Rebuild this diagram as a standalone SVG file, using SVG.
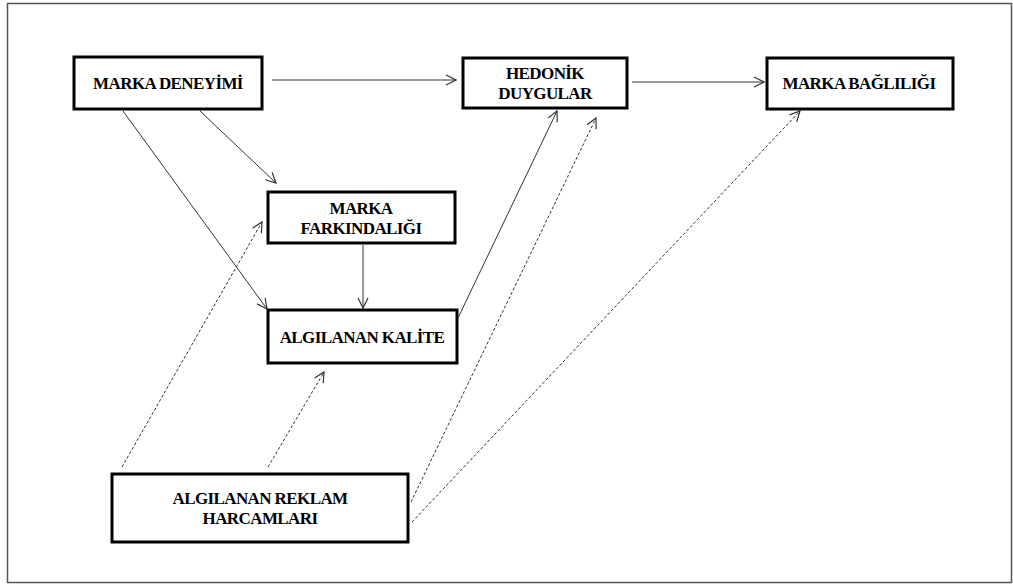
<svg xmlns="http://www.w3.org/2000/svg" width="1013" height="584" viewBox="0 0 1013 584">
<style>
.box{fill:#fff;stroke:#000;stroke-width:3}
.t{font-family:"Liberation Serif","Times New Roman",serif;font-weight:bold;font-size:17px;letter-spacing:-0.6px;fill:#000;text-anchor:middle}
.c{fill:none;stroke:#333;stroke-width:1;marker-end:url(#ah)}
.d{stroke-dasharray:3 2}
</style>
<defs>
<marker id="ah" viewBox="0 0 12 12" refX="11" refY="6" markerWidth="12" markerHeight="12" markerUnits="userSpaceOnUse" orient="auto">
<path d="M1,1 L11,6 L1,11" fill="none" stroke="#333" stroke-width="1.2"/>
</marker>
</defs>
<rect x="7.5" y="3.5" width="1004" height="579" fill="#fff" stroke="#555" stroke-width="1.5"/>
<g id="connectors">
<line class="c" x1="272" y1="80" x2="456" y2="80"/>
<line class="c" x1="632" y1="82" x2="764" y2="82"/>
<line class="c" x1="200" y1="111" x2="276" y2="183"/>
<line class="c" x1="123" y1="111" x2="267" y2="309"/>
<line class="c" x1="363" y1="245" x2="363" y2="308"/>
<line class="c" x1="458" y1="318" x2="557" y2="111"/>
<line class="c d" x1="122" y1="467" x2="262" y2="222"/>
<line class="c d" x1="268" y1="467" x2="324" y2="372"/>
<line class="c d" x1="411" y1="502" x2="596" y2="118"/>
<line class="c d" x1="412" y1="522" x2="800" y2="111"/>
</g>
<g id="marka-deneyimi">
<rect class="box" x="74" y="57" width="188" height="52"/>
<text class="t" x="168" y="89">MARKA DENEYİMİ</text>
</g>
<g id="hedonik-duygular">
<rect class="box" x="463" y="58" width="164" height="50"/>
<text class="t" x="545" y="79">HEDONİK</text>
<text class="t" x="545" y="99">DUYGULAR</text>
</g>
<g id="marka-bagliligi">
<rect class="box" x="767" y="58" width="186" height="51"/>
<text class="t" x="859" y="89">MARKA BAĞLILIĞI</text>
</g>
<g id="marka-farkindaligi">
<rect class="box" x="268" y="192" width="187" height="51"/>
<text class="t" x="361" y="214">MARKA</text>
<text class="t" x="361" y="234">FARKINDALIĞI</text>
</g>
<g id="algilanan-kalite">
<rect class="box" x="268" y="310" width="189" height="53"/>
<text class="t" x="362" y="343">ALGILANAN KALİTE</text>
</g>
<g id="algilanan-reklam-harcamlari">
<rect class="box" x="112" y="474" width="296" height="68"/>
<text class="t" x="260" y="504">ALGILANAN REKLAM</text>
<text class="t" x="260" y="524">HARCAMLARI</text>
</g>
</svg>
